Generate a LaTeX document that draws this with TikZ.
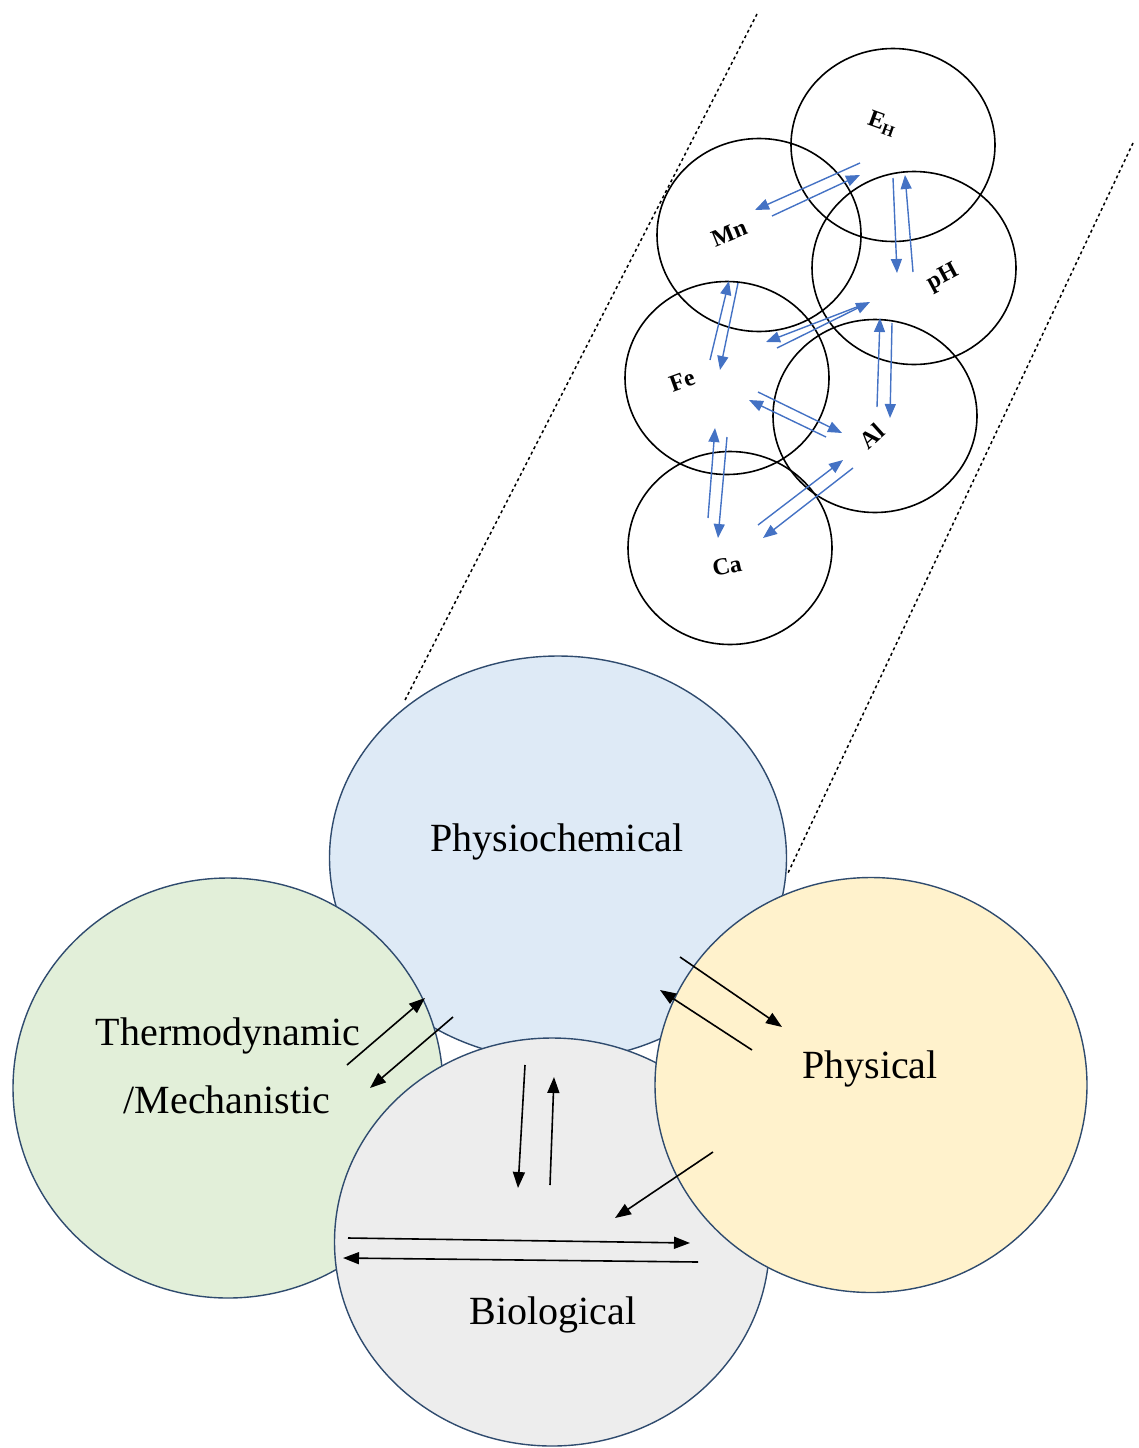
\documentclass[tikz,border=0pt]{standalone}
\usepackage{fontspec}
\setmainfont{Liberation Serif}
\usetikzlibrary{shapes.geometric,arrows.meta}

\definecolor{edgeblue}{HTML}{2F4B6E}
\definecolor{fillchem}{HTML}{DEEAF6}
\definecolor{fillthermo}{HTML}{E2EFD9}
\definecolor{fillbio}{HTML}{EDEDED}
\definecolor{fillphys}{HTML}{FFF2CC}
\definecolor{linkblue}{HTML}{4472C4}

\tikzset{
  bigset/.style={ellipse, draw=edgeblue, line width=1.4pt, inner sep=0pt},
  elem/.style={ellipse, draw=black, line width=1.6pt, inner sep=0pt,
    minimum width=204pt, minimum height=193pt},
  elemlabel/.style={font=\bfseries\fontsize{24}{27}\selectfont, inner sep=0pt},
  biglabel/.style={font=\fontsize{40}{48}\selectfont, inner sep=0pt, anchor=base},
  bluearrow/.style={draw=linkblue, line width=1.4pt, -{Triangle[length=14pt,width=11pt]}},
  blackarrow/.style={draw=black, line width=1.6pt, -{Triangle[length=16pt,width=12pt]}},
  guide/.style={line width=1.5pt, dash pattern=on 3pt off 3pt},
}

% named start/end points for a free-standing arrow
\newcommand\linkarrow[4]{%
  \coordinate (#1-s) at (#2);
  \coordinate (#1-e) at (#3);
  \draw[#4] (#1-s) -- (#1-e);}

\begin{document}
\begin{tikzpicture}[x=1pt, y=-1pt]
\useasboundingbox (0,0) rectangle (1138,1448);

% zoom guides from the physiochemical set up to the element circles
\coordinate (gl-top) at (757,14);
\coordinate (gl-bot) at (404,702);
\coordinate (gr-top) at (1133,143);
\coordinate (gr-bot) at (788,873);
\draw[guide] (gl-top) -- (gl-bot);
\draw[guide] (gr-top) -- (gr-bot);

% the four process sets
\node[bigset, fill=fillchem, minimum width=457pt, minimum height=404pt] (chem) at (558,858) {};
\node[bigset, fill=fillthermo, minimum width=430pt, minimum height=420pt] (thermo) at (228,1088) {};
\node[bigset, fill=fillbio, minimum width=435pt, minimum height=408pt] (bio) at (552,1242) {};
\node[bigset, fill=fillphys, minimum width=432pt, minimum height=415pt] (phys) at (871,1085) {};

\node[biglabel] (chemtxt) at (557,851) {Physiochemical};
\node[biglabel] (thermotxt) at (228,1045) {Thermodynamic};
\node[biglabel] (mechtxt) at (227,1113) {/Mechanistic};
\node[biglabel] (phystxt) at (870,1078) {Physical};
\node[biglabel] (biotxt) at (553,1324) {Biological};

% element circles
\node[elem] (eh) at (893,145) {};
\node[elem] (mn) at (759,235) {};
\node[elem] (ph) at (914,268) {};
\node[elem] (fe) at (727,378) {};
\node[elem] (al) at (875,416) {};
\node[elem] (ca) at (730,548) {};

\node[elemlabel, rotate=-20] (ehtxt) at (882,124) {E\raisebox{-0.3ex}{\fontsize{16}{18}\selectfont H}};
\node[elemlabel, rotate=22] (mntxt) at (729,233) {Mn};
\node[elemlabel, rotate=28] (phtxt) at (943,278) {pH};
\node[elemlabel, rotate=20] (fetxt) at (682,381) {Fe};
\node[elemlabel, rotate=42] (altxt) at (872,436) {Al};
\node[elemlabel, rotate=12] (catxt) at (727,566) {Ca};

% element interactions
\linkarrow{ehmn}{860,163}{755,210}{bluearrow}
\linkarrow{mneh}{772,216}{860,175}{bluearrow}
\linkarrow{ehph}{893,178}{897,273}{bluearrow}
\linkarrow{pheh}{913,272}{905,175}{bluearrow}
\linkarrow{femn}{710,360}{729,281}{bluearrow}
\linkarrow{mnfe}{738,283}{720,370}{bluearrow}
\linkarrow{feph}{777,348}{870,302}{bluearrow}
\linkarrow{phfe}{862,305}{766,342}{bluearrow}
\linkarrow{alph}{877,407}{880,318}{bluearrow}
\linkarrow{phal}{892,323}{890,418}{bluearrow}
\linkarrow{feal}{758,392}{842,433}{bluearrow}
\linkarrow{alfe}{826,437}{749,400}{bluearrow}
\linkarrow{cafe}{708,518}{715,428}{bluearrow}
\linkarrow{feca}{727,437}{718,538}{bluearrow}
\linkarrow{caal}{758,525}{843,460}{bluearrow}
\linkarrow{alca}{853,468}{763,538}{bluearrow}

% process interactions
\linkarrow{thch}{347,1065}{425,998}{blackarrow}
\linkarrow{chth}{453,1017}{370,1088}{blackarrow}
\linkarrow{chph}{680,957}{782,1027}{blackarrow}
\linkarrow{phch}{752,1050}{660,990}{blackarrow}
\linkarrow{chbi}{525,1065}{518,1188}{blackarrow}
\linkarrow{bich}{550,1185}{554,1077}{blackarrow}
\linkarrow{phbi}{713,1152}{615,1218}{blackarrow}
\linkarrow{lr}{348,1238}{690,1243}{blackarrow}
\linkarrow{rl}{698,1262}{343,1258}{blackarrow}
\end{tikzpicture}
\end{document}
